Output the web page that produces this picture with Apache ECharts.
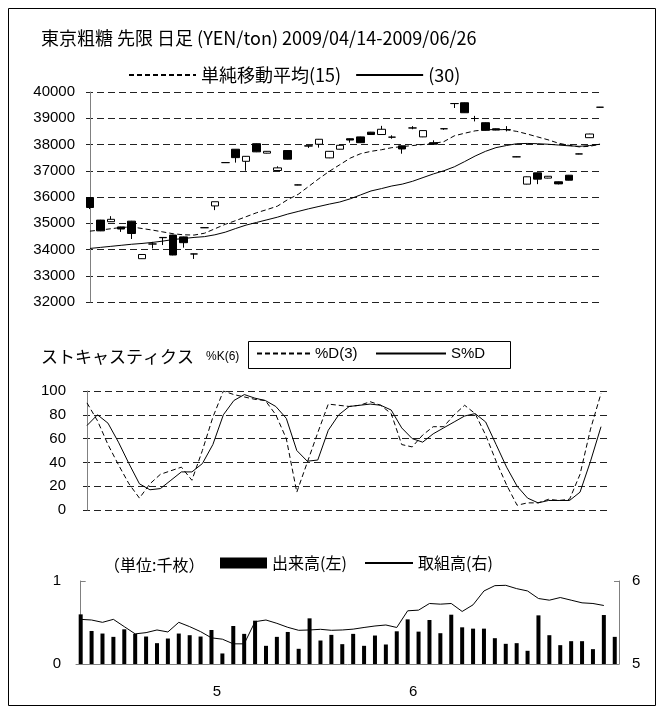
<!DOCTYPE html>
<html>
<head>
<meta charset="utf-8">
<script src="https://cdn.jsdelivr.net/npm/echarts@6/dist/echarts.min.js"></script>
<style>
html,body{margin:0;padding:0;background:#fff;}
#chart{width:663px;height:713px;}
</style>
</head>
<body>
<div id="chart"></div>
<script>
// ---- data ----
const dates = ['04/14','04/15','04/16','04/17','04/20','04/21','04/22','04/23','04/24','04/27','04/28','04/30',
  '05/01','05/07','05/08','05/11','05/12','05/13','05/14','05/15','05/18','05/19','05/20','05/21','05/22','05/25','05/26','05/27','05/28','05/29',
  '06/01','06/02','06/03','06/04','06/05','06/08','06/09','06/10','06/11','06/12','06/15','06/16','06/17','06/18','06/19','06/22','06/23','06/24','06/25','06/26'];

// [open, close, low, high]
const ohlc = [
  [35980,35600,35540,35990],[35120,34710,34700,35130],[35060,35150,35050,35270],[34860,34780,34670,34870],
  [35080,34610,34400,35090],[33650,33810,33640,33820],[34210,34210,34040,34290],[34460,34450,34170,34470],
  [34550,33790,33780,34560],[34480,34260,34070,34490],[33830,33830,33640,33840],[34830,34830,34820,34840],
  [35660,35820,35500,35820],[37310,37310,37300,37320],[37820,37500,37310,37820],[37360,37550,37000,37560],
  [38030,37720,37710,38040],[37670,37740,37660,37750],[37010,37110,37000,37170],[37770,37440,37430,37780],
  [36460,36460,36450,36470],[37950,37940,37870,37960],[38010,38200,37880,38210],[37490,37740,37480,37750],
  [37820,37970,37810,37980],[38220,38170,38070,38230],[38290,38070,38060,38300],[38470,38380,38370,38480],
  [38380,38580,38370,38710],[38280,38280,38220,38350],[37950,37830,37650,37960],[38630,38630,38580,38700],
  [38290,38530,38280,38540],[38070,38010,38000,38160],[38600,38600,38560,38620],[39560,39560,39390,39570],
  [39590,39210,39200,39600],[38990,38990,38880,39090],[38830,38540,38530,38840],[38600,38550,38540,38610],
  [38570,38570,38500,38700],[37530,37530,37520,37540],[36490,36770,36480,36780],[36920,36680,36490,36930],
  [36720,36790,36710,36800],[36580,36500,36480,36590],[36830,36640,36630,36840],[37640,37640,37630,37650],
  [38260,38400,38250,38410],[39420,39420,39410,39430]
];

const ma15 = [34700,34740,34790,34840,34860,34800,34740,34670,34600,34560,34550,34620,34790,34960,35100,35250,
  35400,35520,35650,35900,36100,36400,36700,36980,37230,37480,37650,37740,37800,37880,37920,37960,38000,38040,
  38110,38330,38430,38520,38560,38570,38560,38500,38400,38290,38180,38050,37970,37910,37930,38010];
const ma30 = [34040,34080,34120,34160,34200,34230,34270,34320,34380,34420,34460,34490,34560,34660,34800,34930,
  35030,35130,35230,35350,35450,35550,35640,35730,35810,35930,36080,36230,36320,36420,36490,36600,36740,36880,
  37000,37150,37350,37560,37740,37880,37960,38030,38040,38030,38010,37980,37950,37930,37960,38010];

const stochD = [90,75,55,38,22,10,22,30,33,36,25,50,78,100,97,95,93,92,80,60,15,40,65,89,88,87,88,91,88,81,
  55,53,63,70,70,80,88,81,63,41,21,4,6,6,9,8,9,30,68,98];
const stochSD = [71,80,73,57,39,22,17,18,25,32,32,39,55,80,92,97,94,92,87,77,50,41,42,67,80,87,88,89,88,84,
  69,60,57,64,69,74,79,81,74,55,36,20,10,6,8,8,8,15,41,70];

const volume = [0.598,0.398,0.367,0.327,0.418,0.363,0.331,0.251,0.307,0.367,0.347,0.331,0.410,0.127,0.458,0.363,
  0.522,0.219,0.327,0.386,0.183,0.550,0.283,0.351,0.239,0.363,0.219,0.343,0.235,0.394,0.538,0.390,0.530,0.371,
  0.594,0.442,0.426,0.426,0.311,0.243,0.251,0.159,0.586,0.347,0.227,0.275,0.275,0.179,0.590,0.327];
const openInterest = [5.538,5.530,5.502,5.538,5.450,5.363,5.378,5.410,5.386,5.502,5.450,5.390,5.315,5.299,5.243,5.243,
  5.510,5.530,5.490,5.442,5.406,5.410,5.418,5.406,5.410,5.420,5.440,5.458,5.470,5.440,5.641,5.649,5.729,5.721,
  5.729,5.633,5.713,5.880,5.944,5.948,5.908,5.880,5.789,5.769,5.801,5.769,5.737,5.729,5.705,null];

const candleTicks = [32000,33000,34000,35000,36000,37000,38000,39000,40000];
const stochTicks = [0,20,40,60,80,100];

// ---- build ----
const FONT = "'Liberation Sans', 'Noto Sans CJK JP', sans-serif";
const JFONT = "'Noto Sans CJK JP', 'Liberation Sans', sans-serif";
const idx = (arr) => arr.map((v, i) => [i, v]);

// month label positions: between the first trading day of a new month and the next
const monthPos = [];
const monthName = {};
for (let i = 1; i < dates.length; i++) {
  if (dates[i].slice(0, 2) !== dates[i - 1].slice(0, 2)) {
    const p = i + 0.5;
    monthPos.push(p);
    monthName[p] = String(parseInt(dates[i].slice(0, 2), 10));
  }
}

const gridDash = { color: '#222', width: 1, type: [7, 4] };
const axisGray = { show: true, lineStyle: { color: '#808080', width: 1 } };
const plain = (v) => String(v);
const noSym = { opacity: 0 };

const hiddenX = (g, min, max) => ({
  gridIndex: g, type: 'value', min: min, max: max,
  axisLine: { show: false }, axisTick: { show: false }, axisLabel: { show: false }, splitLine: { show: false }
});

const chart = echarts.init(document.getElementById('chart'), null, { renderer: 'canvas' });
chart.setOption({
  animation: false,
  backgroundColor: '#fff',
  textStyle: { fontFamily: FONT, color: '#000' },
  title: [
    { text: '東京粗糖 先限 日足 (YEN/ton) 2009/04/14-2009/06/26', left: 36, top: 24,
      textStyle: { fontFamily: JFONT, fontSize: 18, fontWeight: 'normal', color: '#000' } },
    { text: '{a|ストキャスティクス}{b|%K(6)}', left: 36, top: 343,
      textStyle: { fontWeight: 'normal', rich: {
        a: { fontFamily: JFONT, fontSize: 17, fontWeight: 'normal', color: '#000' },
        b: { fontFamily: FONT, fontSize: 12, fontWeight: 'normal', color: '#000', padding: [0, 0, 0, 12] } } } },
    { text: '（単位:千枚）', left: 99, top: 552,
      textStyle: { fontFamily: JFONT, fontSize: 16, fontWeight: 'normal', color: '#000' } }
  ],
  legend: [
    { data: [{ name: '単純移動平均(15)', itemStyle: noSym }, { name: '(30)', itemStyle: noSym }],
      left: 128, top: 66, padding: 0, itemWidth: 67, itemHeight: 14, itemGap: 14,
      textStyle: { fontFamily: JFONT, fontSize: 18, color: '#000' }, selectedMode: false },
    { data: [{ name: '%D(3)', itemStyle: noSym }], left: 256, top: 346, padding: 0, itemWidth: 53, itemHeight: 14,
      textStyle: { fontFamily: FONT, fontSize: 15, color: '#000' }, selectedMode: false },
    { data: [{ name: 'S%D', itemStyle: noSym }], left: 375, top: 346, padding: 0, itemWidth: 70, itemHeight: 14,
      textStyle: { fontFamily: FONT, fontSize: 15, color: '#000' }, selectedMode: false },
    { data: [{ name: '出来高(左)', icon: 'rect' }], left: 220, top: 555, padding: 0,
      itemWidth: 47, itemHeight: 11,
      textStyle: { fontFamily: JFONT, fontSize: 16, color: '#000' }, selectedMode: false },
    { data: [{ name: '取組高(右)', itemStyle: noSym }], left: 364, top: 555, padding: 0,
      itemWidth: 48, itemHeight: 11,
      textStyle: { fontFamily: JFONT, fontSize: 16, color: '#000' }, selectedMode: false }
  ],
  graphic: [
    { type: 'rect', shape: { x: 8.5, y: 8.5, width: 647, height: 697 }, style: { fill: 'none', stroke: '#000', lineWidth: 1 }, silent: true },
    { type: 'rect', shape: { x: 248.5, y: 341.5, width: 262, height: 27 }, style: { fill: 'none', stroke: '#000', lineWidth: 1 }, silent: true }
  ],
  grid: [
    { left: 86, top: 92, width: 516, height: 210 },
    { left: 83, top: 391, width: 524, height: 119 },
    { left: 76, top: 581, width: 543, height: 83 }
  ],
  xAxis: [
    hiddenX(0, -0.38, 49.19),
    hiddenX(1, -0.38, 49.57),
    { gridIndex: 2, type: 'value', min: -0.43, max: 49.39,
      axisLine: axisGray, axisTick: { show: false }, splitLine: { show: false },
      axisLabel: { customValues: monthPos, formatter: (v) => monthName[v] || '', margin: 20,
        fontSize: 15, color: '#000', fontFamily: FONT } }
  ],
  yAxis: [
    { gridIndex: 0, type: 'value', min: candleTicks[0], max: candleTicks[candleTicks.length - 1], interval: 1000,
      axisLine: axisGray, axisTick: { show: false }, splitLine: { show: true, lineStyle: gridDash },
      axisLabel: { margin: 11, fontSize: 15, color: '#000', fontFamily: FONT, formatter: plain } },
    { gridIndex: 1, type: 'value', min: stochTicks[0], max: stochTicks[stochTicks.length - 1], interval: 20,
      axisLine: axisGray, axisTick: { show: false }, splitLine: { show: true, lineStyle: gridDash },
      axisLabel: { margin: 17, fontSize: 15, color: '#000', fontFamily: FONT, formatter: plain } },
    { gridIndex: 2, type: 'value', min: 0, max: 1, interval: 1,
      axisLine: axisGray, axisTick: { show: true, inside: true, length: 5, lineStyle: { color: '#808080' } },
      splitLine: { show: false },
      axisLabel: { margin: 15, fontSize: 15, color: '#000', fontFamily: FONT, formatter: plain } },
    { gridIndex: 2, type: 'value', min: 5, max: 6, interval: 1, position: 'right',
      axisLine: axisGray, axisTick: { show: true, inside: true, length: 5, lineStyle: { color: '#808080' } },
      splitLine: { show: false },
      axisLabel: { margin: 13, fontSize: 15, color: '#000', fontFamily: FONT, formatter: plain } }
  ],
  series: [
    { type: 'candlestick', name: 'price', xAxisIndex: 0, yAxisIndex: 0, barWidth: 8,
      data: ohlc.map((d, i) => [i, d[0], d[1], d[2], d[3]]),
      encode: { x: 0, y: [1, 2, 3, 4] },
      itemStyle: { color: '#fff', color0: '#000', borderColor: '#000', borderColor0: '#000', borderWidth: 1 } },
    { type: 'line', name: '単純移動平均(15)', xAxisIndex: 0, yAxisIndex: 0, data: idx(ma15), symbol: 'none',
      lineStyle: { color: '#000', width: 1, type: [5, 3] }, itemStyle: { color: '#000' } },
    { type: 'line', name: '(30)', xAxisIndex: 0, yAxisIndex: 0, data: idx(ma30), symbol: 'none',
      lineStyle: { color: '#000', width: 1 }, itemStyle: { color: '#000' } },
    { type: 'line', name: '%D(3)', xAxisIndex: 1, yAxisIndex: 1, data: idx(stochD), symbol: 'none',
      lineStyle: { color: '#000', width: 1, type: [5, 3] }, itemStyle: { color: '#000' } },
    { type: 'line', name: 'S%D', xAxisIndex: 1, yAxisIndex: 1, data: idx(stochSD), symbol: 'none',
      lineStyle: { color: '#000', width: 1 }, itemStyle: { color: '#000' } },
    { type: 'bar', name: '出来高(左)', xAxisIndex: 2, yAxisIndex: 2, data: idx(volume), barWidth: 4,
      itemStyle: { color: '#000' } },
    { type: 'line', name: '取組高(右)', xAxisIndex: 2, yAxisIndex: 3, data: idx(openInterest), symbol: 'none',
      lineStyle: { color: '#000', width: 1 }, itemStyle: { color: '#000' } }
  ]
});
</script>
</body>
</html>
